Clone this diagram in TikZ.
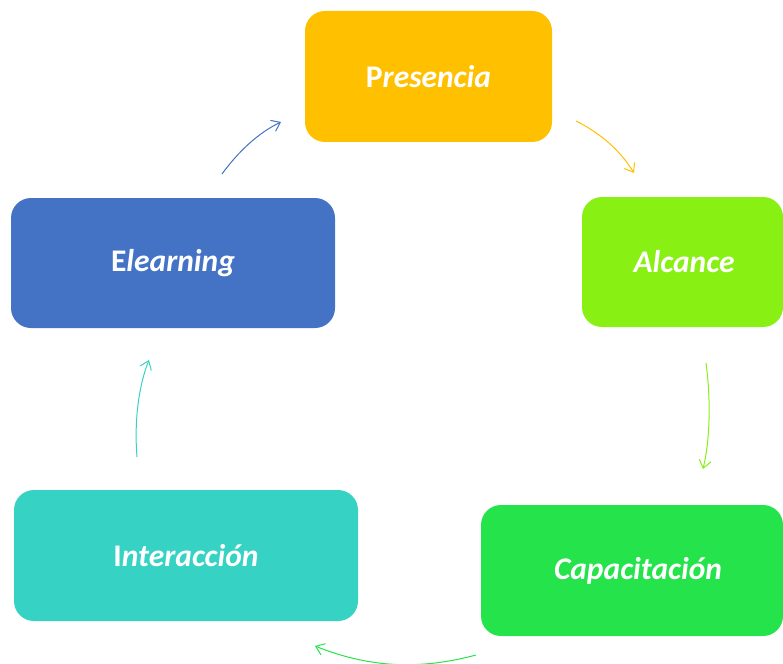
\documentclass[tikz,border=0pt]{standalone}
\usepackage{fontspec}
\setmainfont{Carlito}
\usetikzlibrary{arrows.meta}
\definecolor{cPres}{HTML}{FFC000}
\definecolor{cAlc}{HTML}{88F013}
\definecolor{cElea}{HTML}{4472C4}
\definecolor{cInt}{HTML}{36D3C5}
\definecolor{cCap}{HTML}{25E34A}
\tikzset{
  box/.style={rounded corners=20pt, inner sep=0pt, text=white, font=\fontsize{31.5}{36}\selectfont\bfseries},
  conn/.style={line width=1pt, -{Straight Barb[length=8pt,width=12pt,line width=1pt]}},
}
\newcommand{\lbl}[2]{#1\itshape #2}
\begin{document}
\begin{tikzpicture}[x=1pt,y=-1pt]
\useasboundingbox (0,0) rectangle (783,663);
\node[box, fill=cPres, minimum width=247pt, minimum height=131pt] (pres) at (428.5,76.5) {\lbl{P}{resencia}};
\node[box, fill=cAlc, minimum width=201pt, minimum height=130pt] (alc) at (682.5,262) {\hspace*{3pt}\lbl{}{Alcance}};
\node[box, fill=cElea, minimum width=324pt, minimum height=130pt] (elea) at (173,263) {\lbl{E}{learning}};
\node[box, fill=cInt, minimum width=344pt, minimum height=131pt] (inter) at (186,555.5) {\lbl{I}{nteracción}};
\node[box, fill=cCap, minimum width=302pt, minimum height=131pt] (cap) at (632,570.5) {\hspace*{12pt}\lbl{}{Capacitación}};
\coordinate (a1) at (576,121); \coordinate (a2) at (634,173);
\coordinate (b1) at (706,363); \coordinate (b2) at (703,469);
\coordinate (c1) at (476,655); \coordinate (c2) at (315,646);
\coordinate (d1) at (137,457); \coordinate (d2) at (149,360);
\coordinate (e1) at (222,174); \coordinate (e2) at (281,122);
\draw[conn, cPres] (a1) .. controls (600,133) and (620,150) .. (a2);
\draw[conn, cAlc] (b1) .. controls (711,400) and (710,440) .. (b2);
\draw[conn, cCap] (c1) .. controls (420,670) and (370,668) .. (c2);
\draw[conn, cInt] (d1) .. controls (134,420) and (139,385) .. (d2);
\draw[conn, cElea] (e1) .. controls (238,152) and (258,133) .. (e2);
\end{tikzpicture}
\end{document}
